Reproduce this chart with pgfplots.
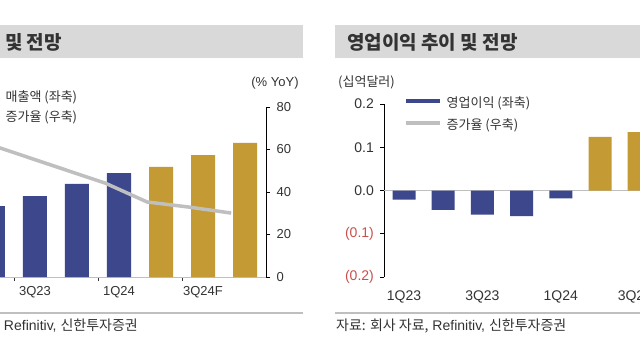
\documentclass[border=0pt]{standalone}
\usepackage{pgfplots}
\pgfplotsset{compat=1.18}
\usepackage{fontspec}
\setmainfont{Liberation Sans}
\newfontfamily\kr{Noto Sans CJK KR}
\definecolor{navy}{HTML}{3D478C}
\definecolor{gold}{HTML}{C39A33}
\definecolor{lgray}{HTML}{BFBFBF}
\definecolor{tgray}{HTML}{D9D9D9}
\definecolor{txt}{HTML}{333333}
\definecolor{negred}{HTML}{C8504D}
\begin{document}
\begin{tikzpicture}
\path[use as bounding box] (0pt,0pt) rectangle (640pt,360pt);
\clip (0pt,0pt) rectangle (640pt,360pt);
\fill[white] (0pt,0pt) rectangle (640pt,360pt);
% title bars
\fill[tgray] (-10pt,302pt) rectangle (303pt,335pt);
\fill[tgray] (335pt,302pt) rectangle (650pt,335pt);
\node[anchor=east, font=\kr\fontsize{19}{21}\selectfont\bfseries, text=txt, inner sep=0pt] at (62pt,318pt) {매출액 추이 및 전망};
\node[anchor=west, font=\kr\fontsize{19}{21}\selectfont\bfseries, text=txt, inner sep=0pt] at (347pt,318pt) {영업이익 추이 및 전망};
% separators and sources
\draw[lgray, line width=1.2pt] (-10pt,47pt) -- (303pt,47pt);
\draw[lgray, line width=1.2pt] (335pt,47pt) -- (650pt,47pt);
\node[anchor=east, font=\fontsize{14}{16}\selectfont, text=txt, inner sep=0pt] at (138pt,34pt) {{\kr 자료: 회사 자료,} Refinitiv, {\kr 신한투자증권}};
\node[anchor=west, font=\fontsize{14}{16}\selectfont, text=txt, inner sep=0pt] at (336pt,34pt) {{\kr 자료: 회사 자료,} Refinitiv, {\kr 신한투자증권}};
% axis unit labels
\node[font=\fontsize{13}{15}\selectfont, text=txt, inner sep=0pt] at (275pt,277pt) {(\% YoY)};
\node[anchor=west, font=\kr\fontsize{13}{15}\selectfont, text=txt, inner sep=0pt] at (338pt,278pt) {(십억달러)};

% ---------------- left chart ----------------
\begin{axis}[
  at={(-70pt,83pt)}, anchor=south west, scale only axis,
  width=336pt, height=170pt,
  xmin=-0.5, xmax=7.5, ymin=0, ymax=80,
  axis y line*=right, axis x line*=bottom,
  y axis line style={black, line width=1pt, -},
  x axis line style={lgray, line width=0.8pt, -},
  ytick={0,20,40,60,80},
  tick align=outside,
  major tick length=4pt,
  ytick style={black, line width=0.8pt},
  xtick={1.5,3.5,5.5}, xticklabels={},
  xtick style={txt, line width=0.8pt},
  extra x ticks={0,2,4,6},
  extra x tick labels={1Q23,3Q23,1Q24,3Q24F},
  extra x tick style={major tick length=0pt, xticklabel style={yshift=-6pt}},
  tick label style={font=\fontsize{13}{15}\selectfont, text=txt},
  yticklabel style={xshift=3pt},
  /pgf/number format/assume math mode=true,
  legend cell align=left,
  legend style={at={(0.098,1.088)}, anchor=north west, draw=none, fill=none,
    inner sep=0pt, row sep=8pt, column sep=5pt,
    font=\kr\fontsize{13}{15}\selectfont, text=txt,
    nodes={inner sep=0pt, text height=9pt, text depth=3pt}},
]
\addplot[ybar, bar width=24pt, bar shift=0pt, fill=navy, draw=none,
  legend image code/.code={\draw[navy, line width=3.5pt] (0pt,3pt) -- (34pt,3pt);}]
  coordinates {(0,28.0) (1,33.4) (2,38.1) (3,43.8) (4,48.9)};
\addlegendentry{매출액 (좌축)}
\addplot[ybar, bar width=24pt, bar shift=0pt, fill=gold, draw=none, forget plot]
  coordinates {(5,51.8) (6,57.4) (7,63.1)};
\addplot[lgray, line width=3.5pt, mark=none,
  legend image code/.code={\draw[lgray, line width=3.5pt] (0pt,3pt) -- (34pt,3pt);}]
  coordinates {(-0.33,70.5) (0.67,64.0) (1.67,57.4) (2.67,50.8) (3.67,44.2) (4.67,35.3) (5.67,32.9) (6.67,30.1)};
\addlegendentry{증가율 (우축)}
\end{axis}

% ---------------- right chart ----------------
\begin{axis}[
  at={(384.4pt,83pt)}, anchor=south west, scale only axis,
  width=313.6pt, height=173pt,
  xmin=-0.5, xmax=7.5, ymin=-0.2, ymax=0.2,
  axis y line*=left, axis x line*=bottom,
  y axis line style={black, line width=1pt, -},
  x axis line style={draw=none},
  ytick={-0.2,-0.1,0,0.1,0.2},
  yticklabels={{\textcolor{negred}{(0.2)}},{\textcolor{negred}{(0.1)}},0.0,0.1,0.2},
  tick align=outside,
  major tick length=4pt,
  ytick style={black, line width=0.8pt},
  xtick={0,2,4,6}, xticklabels={1Q23,3Q23,1Q24,3Q24F},
  xtick style={draw=none},
  xticklabel style={yshift=-6pt},
  extra y ticks={0}, extra y tick labels={},
  extra y tick style={grid=major, major grid style={lgray, line width=1.5pt}, major tick length=0pt},
  tick label style={font=\fontsize{14}{16}\selectfont, text=txt},
  yticklabel style={xshift=-3pt},
  legend cell align=left,
  legend style={at={(0.0625,1.035)}, anchor=north west, draw=none, fill=none,
    inner sep=0pt, row sep=10pt, column sep=5pt,
    font=\kr\fontsize{13}{15}\selectfont, text=txt,
    nodes={inner sep=0pt, text height=9pt, text depth=3pt}},
]
\addplot[ybar, bar width=23pt, bar shift=0pt, fill=navy, draw=none,
  legend image code/.code={\draw[navy, line width=3.5pt] (0pt,3pt) -- (34pt,3pt);}]
  coordinates {(0,-0.021) (1,-0.045) (2,-0.056) (3,-0.059) (4,-0.018)};
\addlegendentry{영업이익 (좌축)}
\addplot[ybar, bar width=23pt, bar shift=0pt, fill=gold, draw=none, forget plot]
  coordinates {(5,0.124) (6,0.135) (7,0.150)};
\addlegendimage{legend image code/.code={\draw[lgray, line width=3.5pt] (0pt,3pt) -- (34pt,3pt);}}
\addlegendentry{증가율 (우축)}
\end{axis}
\end{tikzpicture}
\end{document}
